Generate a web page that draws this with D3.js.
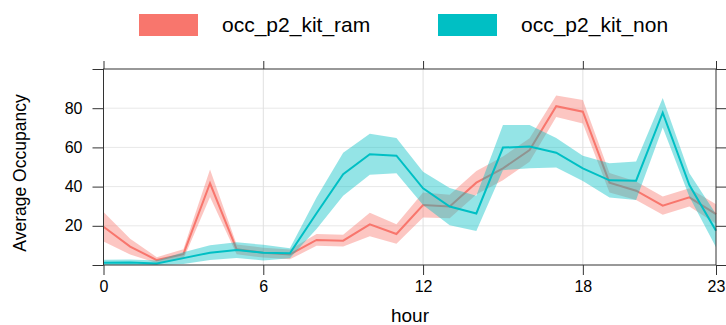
<!DOCTYPE html>
<html>
<head>
<meta charset="utf-8">
<script src="https://cdn.jsdelivr.net/npm/d3@7"></script>
<style>
  body { margin: 0; background: #fff; }
  text { font-family: "Liberation Sans", Arial, sans-serif; fill: #000; }
</style>
</head>
<body>
<div id="chart"></div>
<script>
var hours = d3.range(0, 24)
var seriesNames = ["occ_p2_kit_ram", "occ_p2_kit_non"]
var colors = ["#F8766D", "#00BFC4"]

// occ_p2_kit_ram
var ramMean = [19.5, 9.4, 2.5, 5.5, 41.7, 8, 6.3, 5.4, 12.8, 12.4, 20.7, 15.8, 30.6, 29.8, 42, 49.3, 58.7, 81, 78.2, 42, 37.9, 30.3, 34.5, 26]
var ramLow  = [12, 5.4, 1, 3, 34.7, 5.5, 3.8, 2.9, 9.8, 9.4, 14.7, 10.8, 24.2, 23.8, 36, 43.3, 52.7, 75.5, 72.2, 37, 33.2, 25.6, 29.8, 21]
var ramHigh = [27, 13.4, 4, 8, 48.7, 10.5, 8.8, 7.9, 15.8, 15.4, 26.7, 20.8, 37, 35.8, 48, 55.3, 64.7, 86.5, 84.2, 47, 42.6, 35, 39.2, 31]

// occ_p2_kit_non
var nonMean = [1.2, 1.3, 0.8, 3.5, 6.3, 7.6, 6.3, 6, 26.4, 46.3, 56.5, 55.8, 39.1, 29.8, 26.3, 59.9, 60.4, 57.3, 49.3, 43.2, 43, 77.7, 40.8, 17.5]
var nonLow  = [0, 0, 0, 0.5, 2.5, 3.6, 2.3, 3.5, 18.4, 35.3, 46, 46.8, 30.6, 20.3, 17.3, 48.4, 49.4, 49.8, 42.8, 34.5, 33.2, 70.2, 34.8, 9]
var nonHigh = [2.7, 2.8, 2.3, 6.5, 10.1, 11.6, 10.3, 8.5, 34.4, 57.3, 67, 64.8, 47.6, 39.3, 35.3, 71.4, 71.4, 64.8, 55.8, 51.9, 52.8, 85.2, 46.8, 26]

var xTicks = [0, 6, 12, 18, 23]
var yTicks = [0, 20, 40, 60, 80, 100]
var yLabelTicks = [20, 40, 60, 80]

var W = 726, H = 325
var margin = {top: 69, right: 10, bottom: 60, left: 103.5}

var svg = d3.select("#chart").append("svg")
    .attr("width", W)
    .attr("height", H)

var x = d3.scaleLinear().domain([0, 23]).range([margin.left, 716])
var y = d3.scaleLinear().domain([0, 100]).range([265, margin.top])

// grid
svg.append("g").selectAll("line.gy")
  .data(yLabelTicks).join("line")
    .attr("x1", x(0)).attr("x2", x(23))
    .attr("y1", d => y(d)).attr("y2", d => y(d))
    .attr("stroke", "#e8e8e8").attr("stroke-width", 1)
svg.append("g").selectAll("line.gx")
  .data([6, 12, 18]).join("line")
    .attr("x1", d => x(d)).attr("x2", d => x(d))
    .attr("y1", y(0)).attr("y2", y(100))
    .attr("stroke", "#e0e0e0").attr("stroke-width", 1)

var series = [
  {mean: ramMean, low: ramLow, high: ramHigh, color: colors[0]},
  {mean: nonMean, low: nonLow, high: nonHigh, color: colors[1]}
]

var area = d3.area()
    .x(d => x(d.h))
    .y0(d => y(d.lo))
    .y1(d => y(d.hi))
var line = d3.line()
    .x(d => x(d.h))
    .y(d => y(d.m))

series.forEach(function (s) {
  var rows = hours.map((h, i) => ({h: h, m: s.mean[i], lo: s.low[i], hi: s.high[i]}))
  svg.append("path").datum(rows)
    .attr("d", area)
    .attr("fill", s.color)
    .attr("fill-opacity", 0.42)
  svg.append("path").datum(rows)
    .attr("d", line)
    .attr("fill", "none")
    .attr("stroke", s.color)
    .attr("stroke-width", 2)
})

// axes, lattice-style box
var axisColor = "#333"
var gb = svg.append("g").attr("transform", "translate(0," + y(0) + ")")
    .call(d3.axisBottom(x).tickValues(xTicks).tickSize(10).tickPadding(6).tickFormat(d3.format("d")))
var gt = svg.append("g").attr("transform", "translate(0," + y(100) + ")")
    .call(d3.axisTop(x).tickValues(xTicks).tickSize(8).tickFormat(""))
var gl = svg.append("g").attr("transform", "translate(" + x(0) + ",0)")
    .call(d3.axisLeft(y).tickValues(yTicks).tickSize(11).tickPadding(10)
      .tickFormat(d => yLabelTicks.includes(d) ? d : ""))
var gr = svg.append("g").attr("transform", "translate(" + x(23) + ",0)")
    .call(d3.axisRight(y).tickValues(yTicks).tickSize(10).tickFormat(""))

;[gb, gt, gl, gr].forEach(function (g) {
  g.select(".domain").remove()
  g.selectAll("line").attr("stroke", axisColor)
  g.selectAll("text").style("font-size", "16px").attr("fill", "#000")
})
svg.append("rect")
    .attr("x", x(0)).attr("y", y(100))
    .attr("width", x(23) - x(0)).attr("height", y(0) - y(100))
    .attr("fill", "none").attr("stroke", axisColor).attr("stroke-width", 1)

// axis titles
svg.append("text")
    .attr("x", 410).attr("y", 322)
    .attr("text-anchor", "middle")
    .style("font-size", "19px")
    .text("hour")
svg.append("text")
    .attr("transform", "translate(26,173) rotate(-90)")
    .attr("text-anchor", "middle")
    .style("font-size", "17.5px")
    .text("Average Occupancy")

// legend
var legX = [139, 438]
seriesNames.forEach(function (name, i) {
  svg.append("rect")
      .attr("x", legX[i]).attr("y", 14)
      .attr("width", 59).attr("height", 22)
      .attr("fill", colors[i])
  svg.append("text")
      .attr("x", legX[i] + 83).attr("y", 32)
      .style("font-size", "21px")
      .text(name)
})
</script>
</body>
</html>
